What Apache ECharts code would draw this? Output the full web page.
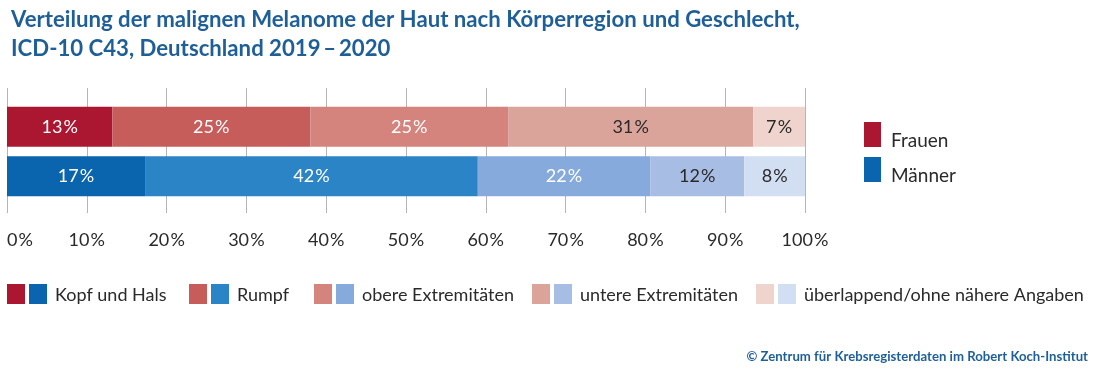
<!DOCTYPE html>
<html><head><meta charset="utf-8">
<script src="https://cdn.jsdelivr.net/npm/echarts@6/dist/echarts.min.js"></script>
<style>html,body{margin:0;padding:0;background:#fff}#c{width:1100px;height:369px}</style>
</head><body><div id="c"></div>
<script>
var categories = ['Frauen', 'Männer'];
var regions = ['Kopf und Hals', 'Rumpf', 'obere Extremitäten', 'untere Extremitäten', 'überlappend/ohne nähere Angaben'];
var frauenValues = [13.2, 24.8, 24.8, 30.7, 6.5];
var maennerValues = [17.3, 41.7, 21.6, 11.8, 7.6];
var xTicks = [0, 10, 20, 30, 40, 50, 60, 70, 80, 90, 100];
var frauenColors = ['#ab1631', '#c65d5b', '#d4837d', '#daa49b', '#efd4cd'];
var maennerColors = ['#0a64ae', '#2b84c6', '#86aadb', '#a7bde3', '#d2def1'];
var labelColors = ['#ffffff', '#ffffff', '#ffffff', '#2a2a2a', '#2a2a2a'];

var FONT = 'Lato';
var NS = '\u200A';
var chart = echarts.init(document.getElementById('c'));

var series = regions.map(function (r, i) {
  return {
    name: r, type: 'bar', stack: 'all', barWidth: 40,
    data: [
      { value: frauenValues[i], itemStyle: { color: frauenColors[i] } },
      { value: maennerValues[i], itemStyle: { color: maennerColors[i] } }
    ],
    label: {
      show: true, position: 'inside', color: labelColors[i], fontFamily: FONT, fontSize: 18,
      formatter: function (p) { return Math.round(p.value) + NS + '%'; }
    },
    silent: true
  };
});

var graphics = [];
// right legend
[['Frauen', frauenColors[0], 122], ['Männer', maennerColors[0], 157]].forEach(function (g) {
  graphics.push({ type: 'rect', shape: { x: 864, y: g[2], width: 17, height: 25 }, style: { fill: g[1] } });
  graphics.push({ type: 'text', x: 891, y: g[2] + 19, style: { text: g[0], font: '19px ' + FONT, fill: '#2a2a2a', textVerticalAlign: 'middle' } });
});
// bottom legend
var legX = [7, 189, 314, 532, 756];
regions.forEach(function (r, i) {
  var x = legX[i];
  graphics.push({ type: 'rect', shape: { x: x, y: 284, width: 18, height: 20 }, style: { fill: frauenColors[i] } });
  graphics.push({ type: 'rect', shape: { x: x + 22, y: 284, width: 18, height: 20 }, style: { fill: maennerColors[i] } });
  graphics.push({ type: 'text', x: x + 48, y: 295, style: { text: r, font: '18px ' + FONT, fill: '#2a2a2a', textVerticalAlign: 'middle' } });
});
graphics.push({ type: 'text', right: 12, top: 350, style: { text: '\u00A9 Zentrum für Krebsregisterdaten im Robert Koch-Institut', font: 'bold 13.2px ' + FONT, fill: '#1f5f98' } });

chart.setOption({
  animation: false,
  title: {
    text: 'Verteilung der malignen Melanome der Haut nach Körperregion und Geschlecht,\nICD-10 C43, Deutschland 2019\u2009\u2013\u20092020',
    left: 6, top: 0,
    textStyle: { fontFamily: FONT, fontWeight: 'bold', fontSize: 22.2, color: '#1f5f98', lineHeight: 29 }
  },
  grid: { left: 7, width: 798, top: 102, height: 99, containLabel: false },
  xAxis: [{
    type: 'value', min: 0, max: 100, interval: 10, position: 'bottom',
    axisLine: { show: false },
    axisTick: { show: true, length: 12, lineStyle: { color: '#b5b5b5' } },
    splitLine: { show: true, lineStyle: { color: '#b5b5b5' } },
    axisLabel: {
      margin: 30, fontFamily: FONT, fontSize: 18, color: '#2a2a2a', alignMinLabel: 'left',
      formatter: function (v) { return v + NS + '%'; }
    }
  }, {
    type: 'value', min: 0, max: 100, interval: 10, position: 'top',
    axisLine: { show: false },
    axisTick: { show: true, length: 14, lineStyle: { color: '#b5b5b5' } },
    splitLine: { show: false }, axisLabel: { show: false }
  }],
  yAxis: { type: 'category', data: categories, inverse: true, show: false },
  series: series,
  graphic: graphics
});
</script></body></html>
